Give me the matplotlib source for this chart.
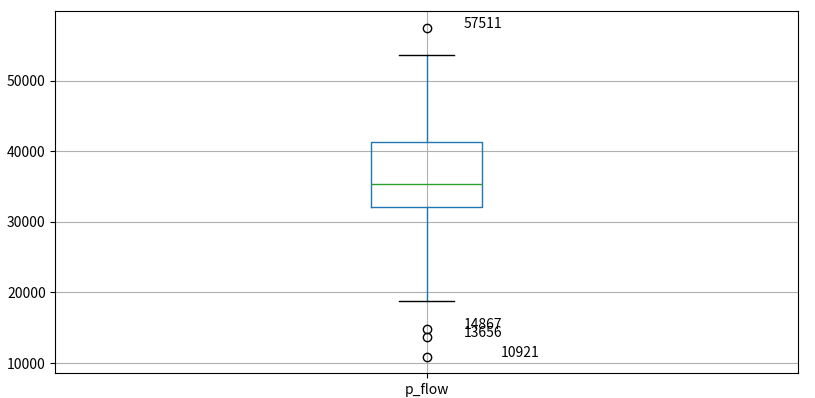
import matplotlib
matplotlib.use("Agg")
import matplotlib.pyplot as plt

plt.rcParams['font.family'] = ['Noto Sans CJK SC', 'DejaVu Sans']
plt.rcParams['axes.unicode_minus'] = False

# box statistics
label = 'p_flow'
q1 = 32050
med = 35300
q3 = 41250
whis_lo = 18750
whis_hi = 53680
outliers = [57511, 14867, 13656, 10921]
# horizontal offsets of the outlier labels
label_dx = [0.05, 0.05, 0.05, 0.1]

stats = [{'label': label, 'q1': q1, 'med': med, 'q3': q3,
          'whislo': whis_lo, 'whishi': whis_hi, 'fliers': outliers}]

fig, ax = plt.subplots(figsize=(8.15, 3.98), dpi=100)
ax.bxp(stats, positions=[1],
       boxprops=dict(color='#1f77b4'),
       whiskerprops=dict(color='#1f77b4'),
       medianprops=dict(color='#2ca02c'),
       capprops=dict(color='k'),
       flierprops=dict(marker='o', markerfacecolor='none', markeredgecolor='k'))
ax.set_xlim(0.5, 1.5)
ax.set_ylim(8600, 59850)
ax.grid(True, color='#b0b0b0')
ax.set_axisbelow(True)

for v, dx in zip(outliers, label_dx):
    ax.annotate(str(v), xy=(1, v), xytext=(1 + dx, v))

plt.subplots_adjust(left=0.068, right=0.979, top=0.972, bottom=0.063)
plt.savefig('out.png')
